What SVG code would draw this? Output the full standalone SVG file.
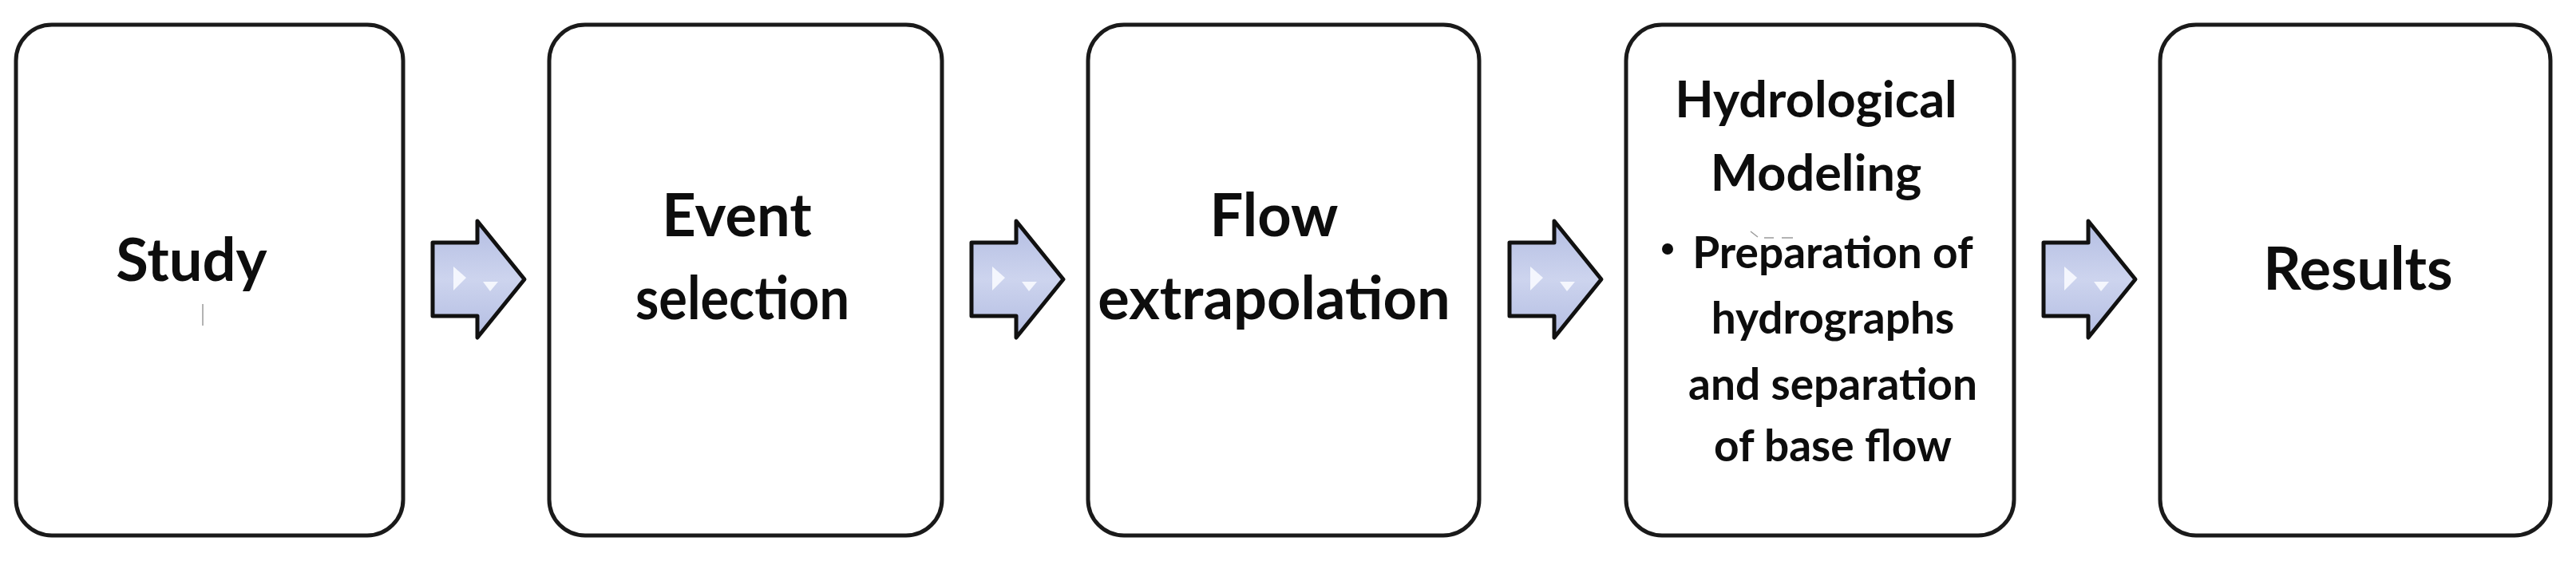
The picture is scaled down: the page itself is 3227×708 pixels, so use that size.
<svg xmlns="http://www.w3.org/2000/svg" width="3227" height="708" viewBox="0 0 3227 708">
<style>
.box{fill:#ffffff;stroke:#1a1a1a;stroke-width:5}
.t{font-family:Lato,"Liberation Sans",sans-serif;font-weight:bold;fill:#0d0d0d;text-anchor:middle}
.big{font-size:74px}
.hd{font-size:63px}
.sm{font-size:55px}
.arr{fill:url(#ag);stroke:#111111;stroke-width:5;stroke-linejoin:round}
.hl{fill:#f6f8fe;opacity:0.95}
.art{stroke:#9a9a9a;stroke-width:1.5;fill:none}
</style>
<defs>
<linearGradient id="ag" x1="0" y1="0" x2="0" y2="1">
<stop offset="0" stop-color="#b3bde2"/>
<stop offset="0.5" stop-color="#cdd4ee"/>
<stop offset="1" stop-color="#b3bde2"/>
</linearGradient>
<path id="arrow" d="M0,-46 H56 V-73 L115,0 L56,73 V46 H0 Z"/>
</defs>
<rect width="3227" height="708" fill="#ffffff"/>
<g id="node-study">
<rect class="box" x="20" y="31" width="485" height="640" rx="45"/>
<text class="t big" x="240" y="352">Study</text>
<line class="art" x1="254" y1="381" x2="254" y2="408"/>
</g>
<g id="node-event">
<rect class="box" x="688" y="31" width="492" height="640" rx="45"/>
<text class="t big" x="923" y="296">Event</text>
<text class="t big" x="930" y="400" textLength="268" lengthAdjust="spacingAndGlyphs">selection</text>
</g>
<g id="node-flow">
<rect class="box" x="1363" y="31" width="490" height="640" rx="45"/>
<text class="t big" x="1596" y="296">Flow</text>
<text class="t big" x="1596" y="400">extrapolation</text>
</g>
<g id="node-hydro">
<rect class="box" x="2037" y="31" width="486" height="640" rx="45"/>
<text class="t hd" x="2275" y="147">Hydrological</text>
<text class="t hd" x="2275" y="239">Modeling</text>
<circle cx="2089" cy="312" r="7" fill="#0d0d0d"/>
<path class="art" d="M2193,290 L2202,297 M2210,298 H2222 M2232,298 H2246"/>
<text class="t sm" x="2296" y="336">Preparation of</text>
<text class="t sm" x="2296" y="418">hydrographs</text>
<text class="t sm" x="2296" y="501">and separation</text>
<text class="t sm" x="2296" y="578">of base flow</text>
</g>
<g id="node-results">
<rect class="box" x="2706" y="31" width="489" height="640" rx="45"/>
<text class="t big" x="2954" y="363">Results</text>
</g>
<g id="connectors">
<g transform="translate(542,350)">
<use href="#arrow" class="arr"/>
<path class="hl" d="M26,-16 L42,-2 L26,14 Z"/><path class="hl" d="M63,3 L82,3 L72,15 Z"/>
</g>
<g transform="translate(1217,350)">
<use href="#arrow" class="arr"/>
<path class="hl" d="M26,-16 L42,-2 L26,14 Z"/><path class="hl" d="M63,3 L82,3 L72,15 Z"/>
</g>
<g transform="translate(1891,350)">
<use href="#arrow" class="arr"/>
<path class="hl" d="M26,-16 L42,-2 L26,14 Z"/><path class="hl" d="M63,3 L82,3 L72,15 Z"/>
</g>
<g transform="translate(2560,350)">
<use href="#arrow" class="arr"/>
<path class="hl" d="M26,-16 L42,-2 L26,14 Z"/><path class="hl" d="M63,3 L82,3 L72,15 Z"/>
</g>
</g>
</svg>
